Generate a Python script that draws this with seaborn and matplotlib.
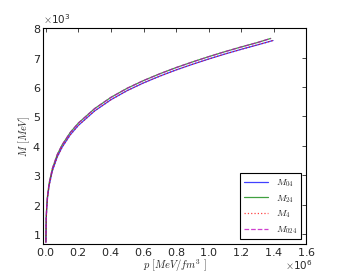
import numpy as np
import pandas as pd
import matplotlib
matplotlib.use("Agg")
import matplotlib.pyplot as plt
import matplotlib.transforms as mtransforms
import seaborn as sns

# pressure p in units of 1e6 MeV/fm^3, mass M in units of 1e3 MeV
p_low = [0.0, 0.002, 0.005, 0.01, 0.02, 0.04, 0.07, 0.1, 0.15, 0.2, 0.3, 0.4,
         0.5, 0.6, 0.7, 0.8, 0.9, 1.0, 1.1, 1.2, 1.3, 1.396]
m_low = [0.72, 1.50, 1.88, 2.24, 2.66, 3.16, 3.63, 3.96, 4.38, 4.70, 5.19, 5.57,
         5.88, 6.14, 6.37, 6.58, 6.77, 6.95, 7.12, 7.28, 7.43, 7.58]
p_high = [0.0, 0.002, 0.005, 0.01, 0.02, 0.04, 0.07, 0.1, 0.15, 0.2, 0.3, 0.4,
          0.5, 0.6, 0.7, 0.8, 0.9, 1.0, 1.1, 1.2, 1.3, 1.382]
m_high = [0.76, 1.56, 1.95, 2.31, 2.74, 3.24, 3.71, 4.04, 4.46, 4.78, 5.27, 5.65,
          5.96, 6.22, 6.45, 6.66, 6.85, 7.03, 7.20, 7.36, 7.51, 7.65]

series = [
    ("$M_{04}$", p_low, m_low, "b", "-"),
    ("$M_{24}$", p_high, m_high, "g", "-"),
    ("$M_4$", p_low, m_low, "r", ":"),
    ("$M_{024}$", p_high, m_high, "m", "--"),
]

sns.set_style("white", {"xtick.direction": "in", "ytick.direction": "in",
                        "axes.edgecolor": "black"})
plt.rcParams["font.family"] = ["DejaVu Sans"]
plt.rcParams["mathtext.fontset"] = "cm"

fig, ax = plt.subplots(figsize=(3.41, 2.73), dpi=100)
fig.subplots_adjust(left=0.126, right=0.898, bottom=0.105, top=0.897)

for label, p, m, color, ls in series:
    df = pd.DataFrame({"p": np.array(p) * 1e6, "M": np.array(m) * 1e3})
    sns.lineplot(data=df, x="p", y="M", ax=ax, color=color, linestyle=ls,
                 linewidth=0.9, alpha=0.75, label=label, sort=False)

ax.set_xlim(-18000, 1.6e6)
ax.set_ylim(660, 8000)
ax.set_xticks(np.arange(0, 1.61e6, 0.2e6))
ax.set_yticks(np.arange(1000, 8001, 1000))
ax.ticklabel_format(style="sci", axis="both", scilimits=(0, 0), useMathText=True)
ax.tick_params(labelsize=8, length=3, width=0.6, top=True, right=True, pad=1.5)
ax.xaxis.get_offset_text().set_fontsize(7.5)
ax.yaxis.get_offset_text().set_fontsize(7.5)
# pull the x offset text (x10^6) up a little so it stays inside the figure
off = ax.xaxis.get_offset_text()
off.set_transform(off.get_transform() +
                  mtransforms.ScaledTranslation(0.06, 0.045, fig.dpi_scale_trans))
for s in ax.spines.values():
    s.set_linewidth(0.8)

ax.set_xlabel(r"$p\ [MeV/fm^3\ ]$", fontsize=7.5, labelpad=-0.5)
ax.set_ylabel(r"$M\ [MeV]$", fontsize=7.5, labelpad=0)

leg = ax.legend(loc="lower right", fontsize=7, fancybox=False, framealpha=1,
                edgecolor="black", handlelength=2.5, borderaxespad=0.5,
                labelspacing=0.4)
leg.get_frame().set_linewidth(0.8)

fig.savefig("out.png", dpi=100)
